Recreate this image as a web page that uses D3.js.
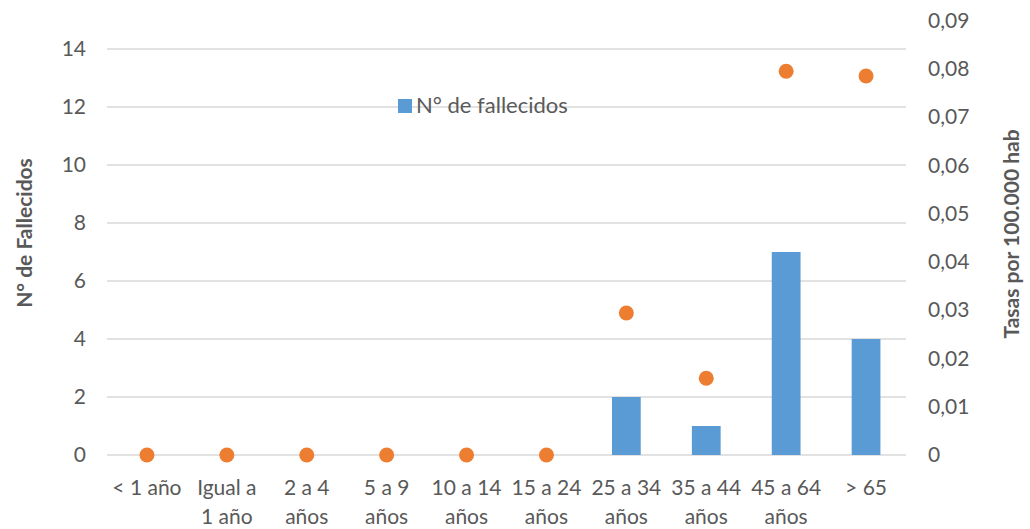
<!DOCTYPE html>
<html>
<head>
<meta charset="utf-8">
<script src="https://cdn.jsdelivr.net/npm/d3@7"></script>
<style>
  body { margin: 0; background: #fff; }
  text { font-family: Lato, "Open Sans", sans-serif; fill: #595959; }
</style>
</head>
<body>
<div id="chart"></div>
<script>
// categories (line breaks as in the original axis)
var categories = ["< 1 año", "Igual a\n1 año", "2 a 4\naños", "5 a 9\naños", "10 a 14\naños",
  "15 a 24\naños", "25 a 34\naños", "35 a 44\naños", "45 a 64\naños", "> 65"];
var fallecidos = [0, 0, 0, 0, 0, 0, 2, 1, 7, 4];
var tasas = [0, 0, 0, 0, 0, 0, 0.0294, 0.0159, 0.0795, 0.0785];
var leftTicks = [0, 2, 4, 6, 8, 10, 12, 14];
var rightTicks = [0, 0.01, 0.02, 0.03, 0.04, 0.05, 0.06, 0.07, 0.08, 0.09];

var svgWidth = 1030;
var svgHeight = 529;

var svg = d3.select("#chart")
  .append("svg")
  .attr("width", svgWidth)
  .attr("height", svgHeight);

// plot area
var x0 = 107, x1 = 906, yBottom = 455, yTop = 20;

var xScale = d3.scaleBand()
  .domain(categories)
  .range([x0, x1])
  .paddingInner(0.64)
  .paddingOuter(0.32);

var yLeft = d3.scaleLinear().domain([0, 15]).range([yBottom, yTop]);
var yRight = d3.scaleLinear().domain([0, 0.09]).range([yBottom, 20.5]);

//gridlines
svg.append("g")
  .selectAll("line")
  .data(leftTicks)
  .enter()
  .append("line")
  .attr("x1", x0)
  .attr("x2", x1)
  .attr("y1", d => yLeft(d))
  .attr("y2", d => yLeft(d))
  .attr("stroke", "#d9d9d9")
  .attr("stroke-width", 1.3);

//left axis
var leftAxis = svg.append("g")
  .attr("transform", `translate(${x0 - 6}, 0)`)
  .call(d3.axisLeft(yLeft).tickValues(leftTicks).tickSize(0).tickPadding(15));
leftAxis.select(".domain").remove();
leftAxis.selectAll("text").attr("font-size", "21px").attr("fill", "#595959").attr("font-family", "Lato, sans-serif");

//right axis
var rightAxis = svg.append("g")
  .attr("transform", `translate(${x1 + 6}, 0)`)
  .call(d3.axisRight(yRight).tickValues(rightTicks).tickSize(0).tickPadding(16)
    .tickFormat(d => d === 0 ? "0" : d3.format(".2f")(d).replace(".", ",")));
rightAxis.select(".domain").remove();
rightAxis.selectAll("text").attr("font-size", "21px").attr("fill", "#595959").attr("font-family", "Lato, sans-serif");

//bars
svg.append("g")
  .selectAll("rect")
  .data(fallecidos)
  .enter()
  .append("rect")
  .attr("x", (d, i) => xScale(categories[i]))
  .attr("y", d => yLeft(d))
  .attr("width", xScale.bandwidth())
  .attr("height", d => yBottom - yLeft(d))
  .attr("fill", "#5b9bd5");

//dots
svg.append("g")
  .selectAll("circle")
  .data(tasas)
  .enter()
  .append("circle")
  .attr("cx", (d, i) => xScale(categories[i]) + xScale.bandwidth() / 2)
  .attr("cy", d => yRight(d))
  .attr("r", 7.5)
  .attr("fill", "#ed7d31");

//category labels
var catLabels = svg.append("g")
  .selectAll("text")
  .data(categories)
  .enter()
  .append("text")
  .attr("text-anchor", "middle")
  .attr("font-size", "21px");
catLabels.each(function(d) {
  var cx = xScale(d) + xScale.bandwidth() / 2;
  d3.select(this).selectAll("tspan")
    .data(d.split("\n"))
    .enter()
    .append("tspan")
    .attr("x", cx)
    .attr("y", (l, j) => 495 + j * 29)
    .text(l => l);
});

//legend
svg.append("rect")
  .attr("x", 398)
  .attr("y", 99)
  .attr("width", 14)
  .attr("height", 14)
  .attr("fill", "#5b9bd5");
svg.append("text")
  .attr("x", 416)
  .attr("y", 113)
  .attr("font-size", "22px")
  .text("N° de fallecidos");

//axis titles
svg.append("text")
  .attr("transform", "translate(32, 233) rotate(-90)")
  .attr("text-anchor", "middle")
  .attr("font-family", "'Open Sans', sans-serif")
  .attr("font-size", "21px")
  .style("font-weight", "bold")
  .text("N° de Fallecidos");

svg.append("text")
  .attr("transform", "translate(1019, 234) rotate(-90)")
  .attr("text-anchor", "middle")
  .attr("font-family", "'Open Sans', sans-serif")
  .attr("font-size", "21px")
  .style("font-weight", "bold")
  .text("Tasas por 100.000 hab");
</script>
</body>
</html>
